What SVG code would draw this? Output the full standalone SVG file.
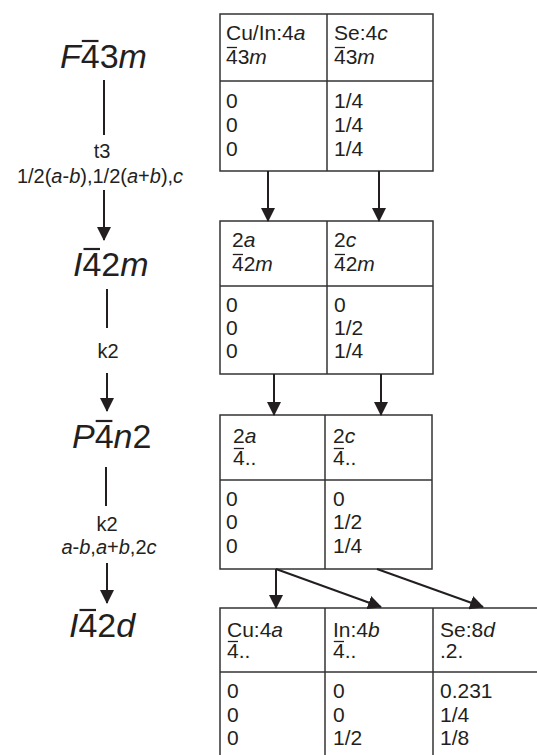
<svg xmlns="http://www.w3.org/2000/svg" width="537" height="755" viewBox="0 0 537 755">
<defs>
<marker id="ah" markerUnits="userSpaceOnUse" markerWidth="14" markerHeight="14" viewBox="0 0 14 14" refX="13" refY="7" orient="auto">
<path d="M0,0 L14,7 L0,14 Z" fill="#231f20"/>
</marker>
</defs>
<style>
text{font-family:"Liberation Sans",Arial,sans-serif;fill:#231f20}
.big{font-size:34px}
.sm{font-size:20px}
.t{font-size:21px}
.i{font-style:italic}
.bb{stroke:#231f20;stroke-width:2.2}
.sb{stroke:#231f20;stroke-width:1.3}
.box{fill:#fff;stroke:#333;stroke-width:1.5}
.conn line{stroke:#231f20;stroke-width:2}
</style>
<rect width="537" height="755" fill="#fff"/>

<g id="sg-F43m">
<text class="big" x="60" y="68"><tspan class="i">F</tspan>43<tspan class="i">m</tspan></text>
<line class="bb" x1="81.8" y1="41" x2="98.5" y2="41"/>
</g>
<g id="sg-I42m">
<text class="big" x="73" y="276"><tspan class="i">I</tspan>42<tspan class="i">m</tspan></text>
<line class="bb" x1="83.5" y1="249" x2="100" y2="249"/>
</g>
<g id="sg-P4n2">
<text class="big" x="72" y="448"><tspan class="i">P</tspan>4<tspan class="i">n</tspan>2</text>
<line class="bb" x1="95.7" y1="421" x2="112.4" y2="421"/>
</g>
<g id="sg-I42d">
<text class="big" x="69" y="637"><tspan class="i">I</tspan>42<tspan class="i">d</tspan></text>
<line class="bb" x1="79.5" y1="610" x2="96" y2="610"/>
</g>

<g id="lbl1">
<text class="sm" x="102" y="158" text-anchor="middle">t3</text>
<text class="sm" x="100" y="183" text-anchor="middle">1/2(<tspan class="i">a</tspan>-<tspan class="i">b</tspan>),1/2(<tspan class="i">a</tspan>+<tspan class="i">b</tspan>),<tspan class="i">c</tspan></text>
</g>
<g id="lbl2">
<text class="sm" x="108" y="358" text-anchor="middle">k2</text>
</g>
<g id="lbl3">
<text class="sm" x="107" y="531" text-anchor="middle">k2</text>
<text class="sm" x="109" y="554" text-anchor="middle"><tspan class="i">a</tspan>-<tspan class="i">b</tspan>,<tspan class="i">a</tspan>+<tspan class="i">b</tspan>,2<tspan class="i">c</tspan></text>
</g>

<g id="table1">
<rect class="box" x="220" y="14" width="213" height="157"/>
<line class="box" x1="327" y1="14" x2="327" y2="171"/>
<line class="box" x1="220" y1="81" x2="433" y2="81"/>
<text class="t" x="226" y="40">Cu/In:4<tspan class="i">a</tspan></text>
<text class="t" x="226" y="64">43<tspan class="i">m</tspan></text>
<line class="sb" x1="226.8" y1="47.5" x2="237" y2="47.5"/>
<text class="t" x="226" y="108">0</text>
<text class="t" x="226" y="132">0</text>
<text class="t" x="226" y="156">0</text>
<text class="t" x="334" y="40">Se:4<tspan class="i">c</tspan></text>
<text class="t" x="334" y="64">43<tspan class="i">m</tspan></text>
<line class="sb" x1="334.8" y1="47.5" x2="345" y2="47.5"/>
<text class="t" x="334" y="108">1/4</text>
<text class="t" x="334" y="132">1/4</text>
<text class="t" x="334" y="156">1/4</text>
</g>

<g id="table2">
<rect class="box" x="220" y="221" width="213" height="153"/>
<line class="box" x1="327" y1="221" x2="327" y2="374"/>
<line class="box" x1="220" y1="286" x2="433" y2="286"/>
<text class="t" x="232" y="247">2<tspan class="i">a</tspan></text>
<text class="t" x="232" y="271">42<tspan class="i">m</tspan></text>
<line class="sb" x1="232.8" y1="254.5" x2="243" y2="254.5"/>
<text class="t" x="226" y="312">0</text>
<text class="t" x="226" y="335">0</text>
<text class="t" x="226" y="358">0</text>
<text class="t" x="334" y="247">2<tspan class="i">c</tspan></text>
<text class="t" x="334" y="271">42<tspan class="i">m</tspan></text>
<line class="sb" x1="334.8" y1="254.5" x2="345" y2="254.5"/>
<text class="t" x="334" y="312">0</text>
<text class="t" x="334" y="335">1/2</text>
<text class="t" x="334" y="358">1/4</text>
</g>

<g id="table3">
<rect class="box" x="220" y="415" width="212" height="154"/>
<line class="box" x1="325" y1="415" x2="325" y2="569"/>
<line class="box" x1="220" y1="480" x2="432" y2="480"/>
<text class="t" x="233" y="443">2<tspan class="i">a</tspan></text>
<text class="t" x="233" y="465">4..</text>
<line class="sb" x1="233.8" y1="448.5" x2="244" y2="448.5"/>
<text class="t" x="226" y="506">0</text>
<text class="t" x="226" y="529">0</text>
<text class="t" x="226" y="553">0</text>
<text class="t" x="333" y="443">2<tspan class="i">c</tspan></text>
<text class="t" x="333" y="465">4..</text>
<line class="sb" x1="333.8" y1="448.5" x2="344" y2="448.5"/>
<text class="t" x="333" y="506">0</text>
<text class="t" x="333" y="529">1/2</text>
<text class="t" x="333" y="553">1/4</text>
</g>

<g id="table4">
<rect class="box" x="220" y="608" width="330" height="160"/>
<line class="box" x1="325" y1="608" x2="325" y2="755"/>
<line class="box" x1="433" y1="608" x2="433" y2="755"/>
<line class="box" x1="220" y1="672" x2="537" y2="672"/>
<text class="t" x="227" y="637">Cu:4<tspan class="i">a</tspan></text>
<text class="t" x="227" y="658">4..</text>
<line class="sb" x1="227.8" y1="641.5" x2="238" y2="641.5"/>
<text class="t" x="227" y="698">0</text>
<text class="t" x="227" y="722">0</text>
<text class="t" x="227" y="745">0</text>
<text class="t" x="333" y="637">In:4<tspan class="i">b</tspan></text>
<text class="t" x="333" y="658">4..</text>
<line class="sb" x1="333.8" y1="641.5" x2="344" y2="641.5"/>
<text class="t" x="333" y="698">0</text>
<text class="t" x="333" y="722">0</text>
<text class="t" x="333" y="745">1/2</text>
<text class="t" x="440" y="637">Se:8<tspan class="i">d</tspan></text>
<text class="t" x="440" y="658">.2.</text>
<text class="t" x="440" y="698">0.231</text>
<text class="t" x="440" y="722">1/4</text>
<text class="t" x="440" y="745">1/8</text>
</g>

<g id="connectors" class="conn">
<line x1="104" y1="80" x2="104" y2="135"/>
<line x1="104" y1="190" x2="104" y2="240" marker-end="url(#ah)"/>
<line x1="107" y1="289" x2="107" y2="328"/>
<line x1="107" y1="373" x2="107" y2="411" marker-end="url(#ah)"/>
<line x1="106" y1="467" x2="106" y2="506"/>
<line x1="107" y1="563" x2="107" y2="603" marker-end="url(#ah)"/>
<line x1="268" y1="171" x2="268" y2="221" marker-end="url(#ah)"/>
<line x1="379" y1="171" x2="379" y2="221" marker-end="url(#ah)"/>
<line x1="274" y1="374" x2="274" y2="415" marker-end="url(#ah)"/>
<line x1="381" y1="374" x2="381" y2="415" marker-end="url(#ah)"/>
<line x1="276" y1="569" x2="276" y2="608" marker-end="url(#ah)"/>
<line x1="276" y1="569" x2="381" y2="607" marker-end="url(#ah)"/>
<line x1="377" y1="569" x2="483" y2="607" marker-end="url(#ah)"/>
</g>
</svg>
